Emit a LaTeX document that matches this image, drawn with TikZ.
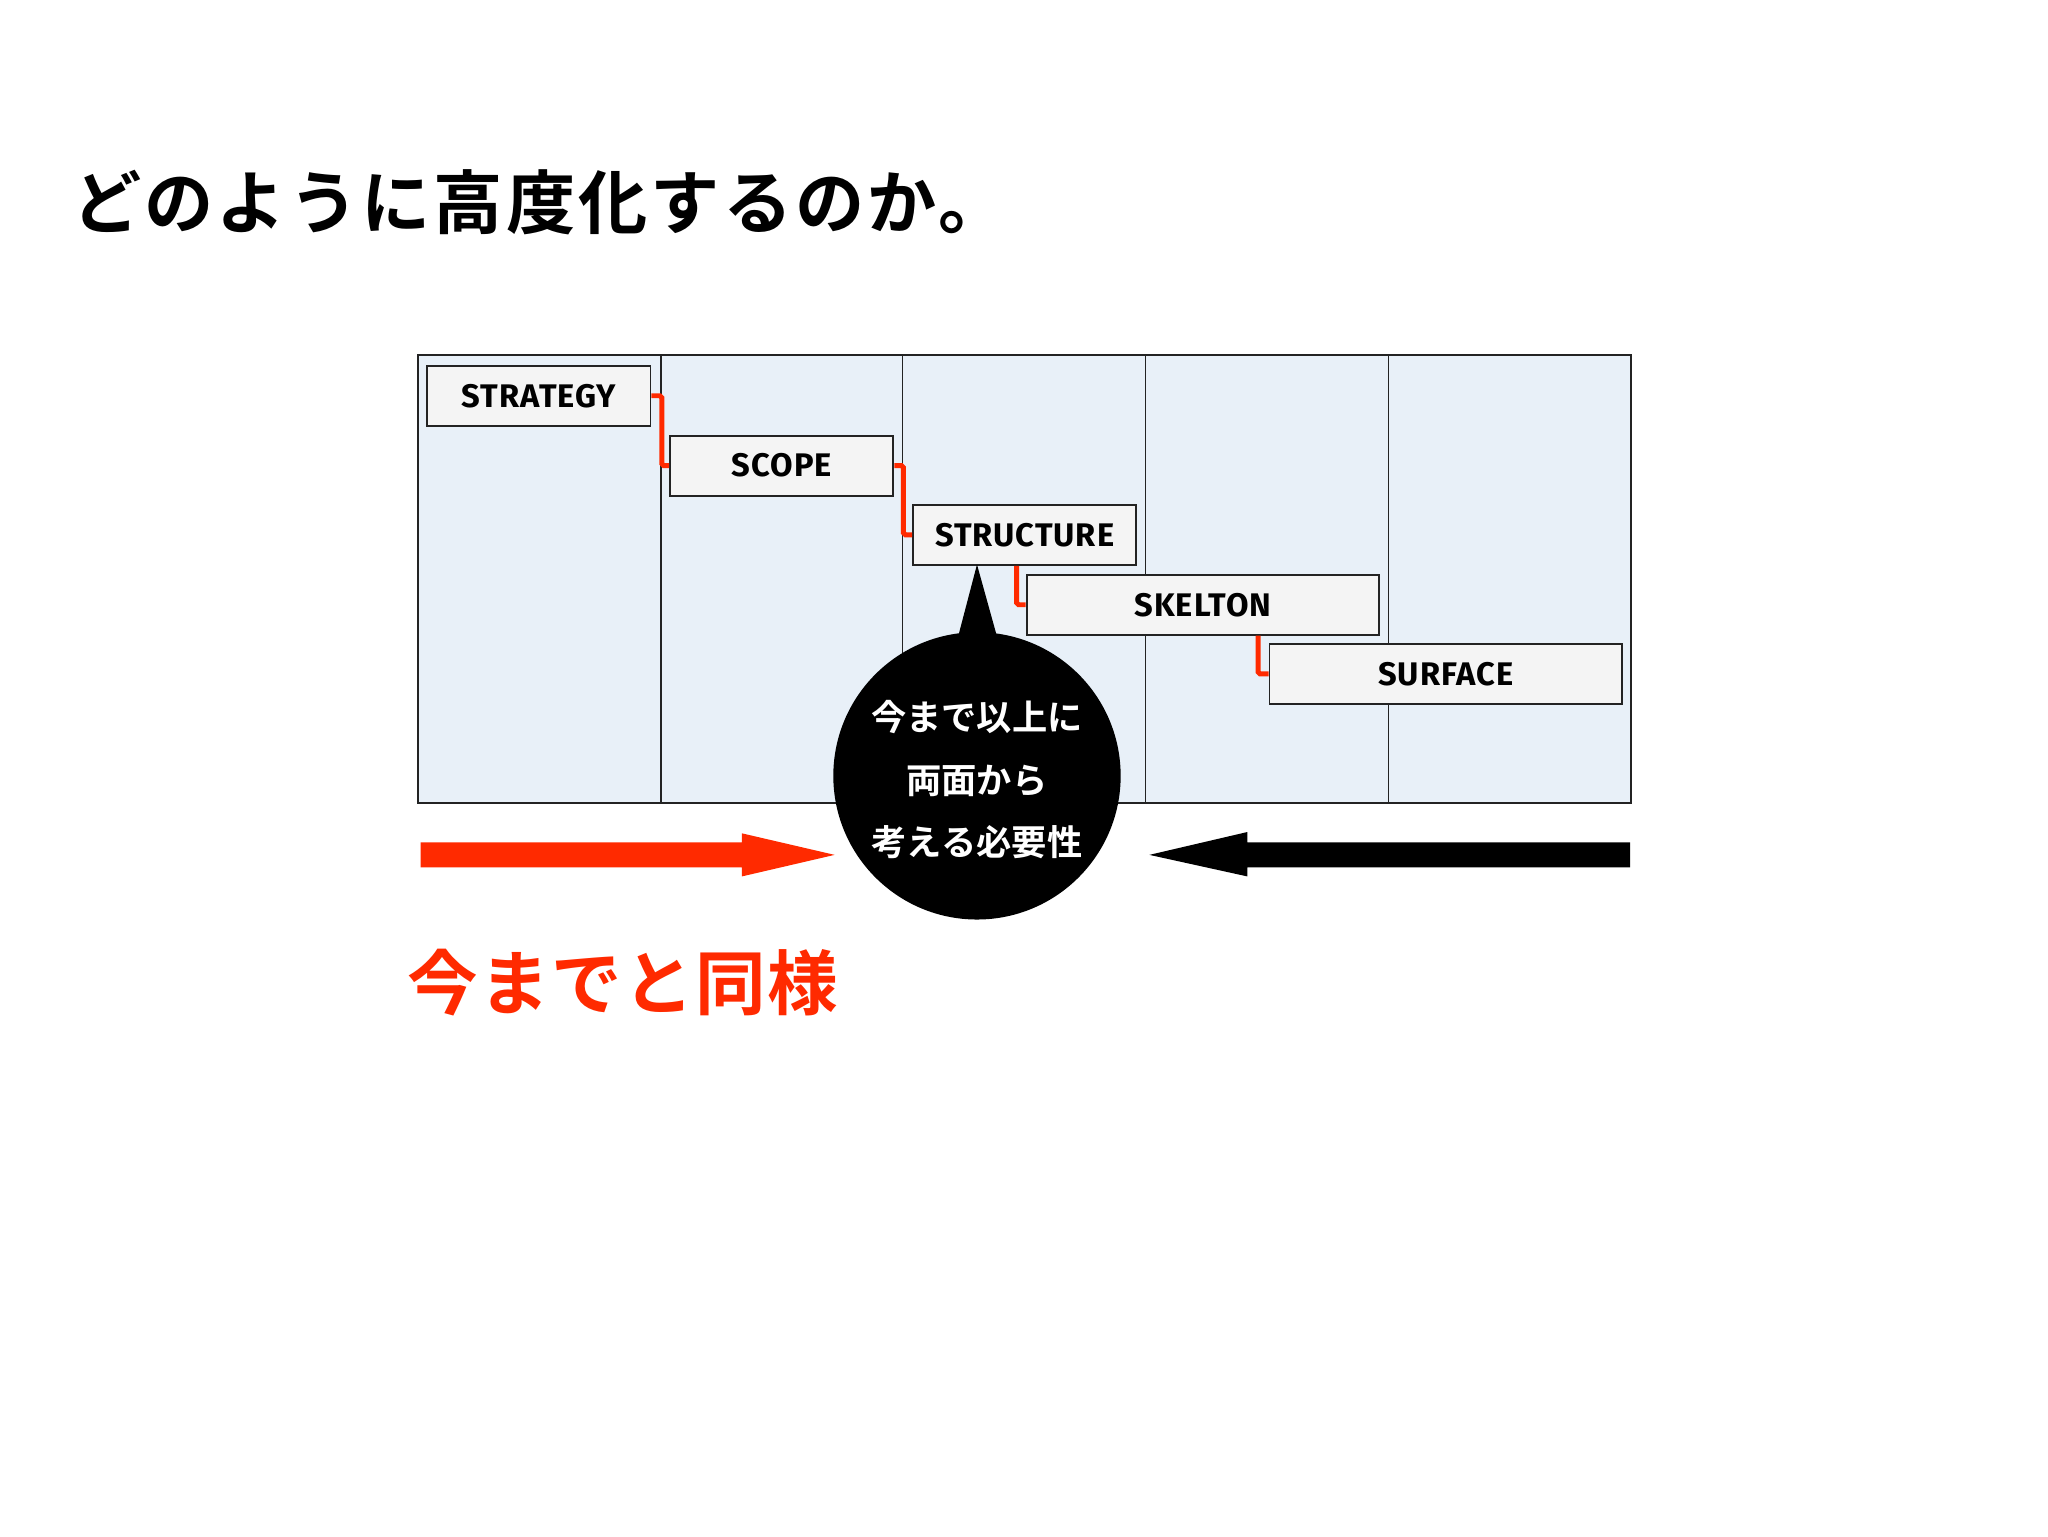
\documentclass[tikz,border=0pt]{standalone}
\usepackage{fontspec}
\newfontfamily\cjkb{Noto Sans CJK JP Bold}
\newfontfamily\labfont{Fira Sans Bold}[LetterSpace=3]
\definecolor{colfill}{RGB}{232,240,248}
\definecolor{boxfill}{RGB}{244,244,244}
\definecolor{boxline}{RGB}{35,35,35}
\definecolor{accent}{RGB}{255,42,0}
\tikzset{
  layerbox/.style={draw=boxline, line width=1.4pt, fill=boxfill, inner sep=0pt,
    minimum height=46pt, font=\labfont\fontsize{25}{28}\selectfont},
  redlink/.style={draw=accent, line width=3.8pt, rounded corners=1.5pt},
  bubble/.style={circle, fill=black, text=white, minimum size=220pt, inner sep=0pt,
    align=center, font=\cjkb\fontsize{27}{48}\selectfont},
}
\begin{document}
\begin{tikzpicture}[x=1pt,y=-1pt]
\useasboundingbox[fill=white] (0,0) rectangle (1568,1176);
% title
\node[anchor=west, inner sep=0pt, font=\cjkb\fontsize{53}{60}\selectfont\addfontfeature{LetterSpace=4.5}] (title) at (55,155) {どのように高度化するのか。};
% grid
\fill[colfill] (320,272) rectangle (1249,615);
\foreach \x in {506,691,877,1063} \draw[line width=1.3pt, boxline] (\x,272) -- (\x,615);
\draw[line width=1.4pt, boxline] (320,272) rectangle (1249,615);
% boxes
\node[layerbox, minimum width=171pt] (strategy) at (412.5,303) {STRATEGY};
\node[layerbox, minimum width=171pt] (scope) at (598.5,356.5) {SCOPE};
\node[layerbox, minimum width=171pt] (structure) at (784.5,409.5) {STRUCTURE};
\node[layerbox, minimum width=270pt] (skelton) at (921,463) {SKELTON};
\node[layerbox, minimum width=270pt] (surface) at (1107,516) {SURFACE};
% red links
\draw[redlink] (strategy.east) -- ++(8,0) |- (scope.west);
\draw[redlink] (scope.east) -- ++(7,0) |- (structure.west);
\draw[redlink] ([xshift=80pt]structure.south west) |- (skelton.west);
\draw[redlink] ([xshift=178pt]skelton.south west) |- (surface.west);
% bubble
\node[bubble] (bubble) at (748,594) {};
\node[text=white, align=center, inner sep=0pt, font=\cjkb\fontsize{27}{48}\selectfont] (bubbletext) at (748,597) {今まで以上に\\両面から\\考える必要性};
\fill[black] ([xshift=-36.5pt,yshift=1pt]structure.south) -- ([xshift=-53pt,yshift=-62pt]structure.south) -- ([xshift=-19pt,yshift=-62pt]structure.south) -- cycle;
% arrows
\fill[accent] (322,645) -- (568,645) -- (568,638) -- (639,654.5) -- (568,671) -- (568,664) -- (322,664) -- cycle;
\fill[black] (1248,645) -- (955,645) -- (955,637) -- (880,654.5) -- (955,671) -- (955,664) -- (1248,664) -- cycle;
% red caption
\node[anchor=west, inner sep=0pt, text=accent, font=\cjkb\fontsize{54}{60}\selectfont\addfontfeature{LetterSpace=2}] (caption) at (312,752) {今までと同様};
\end{tikzpicture}
\end{document}
